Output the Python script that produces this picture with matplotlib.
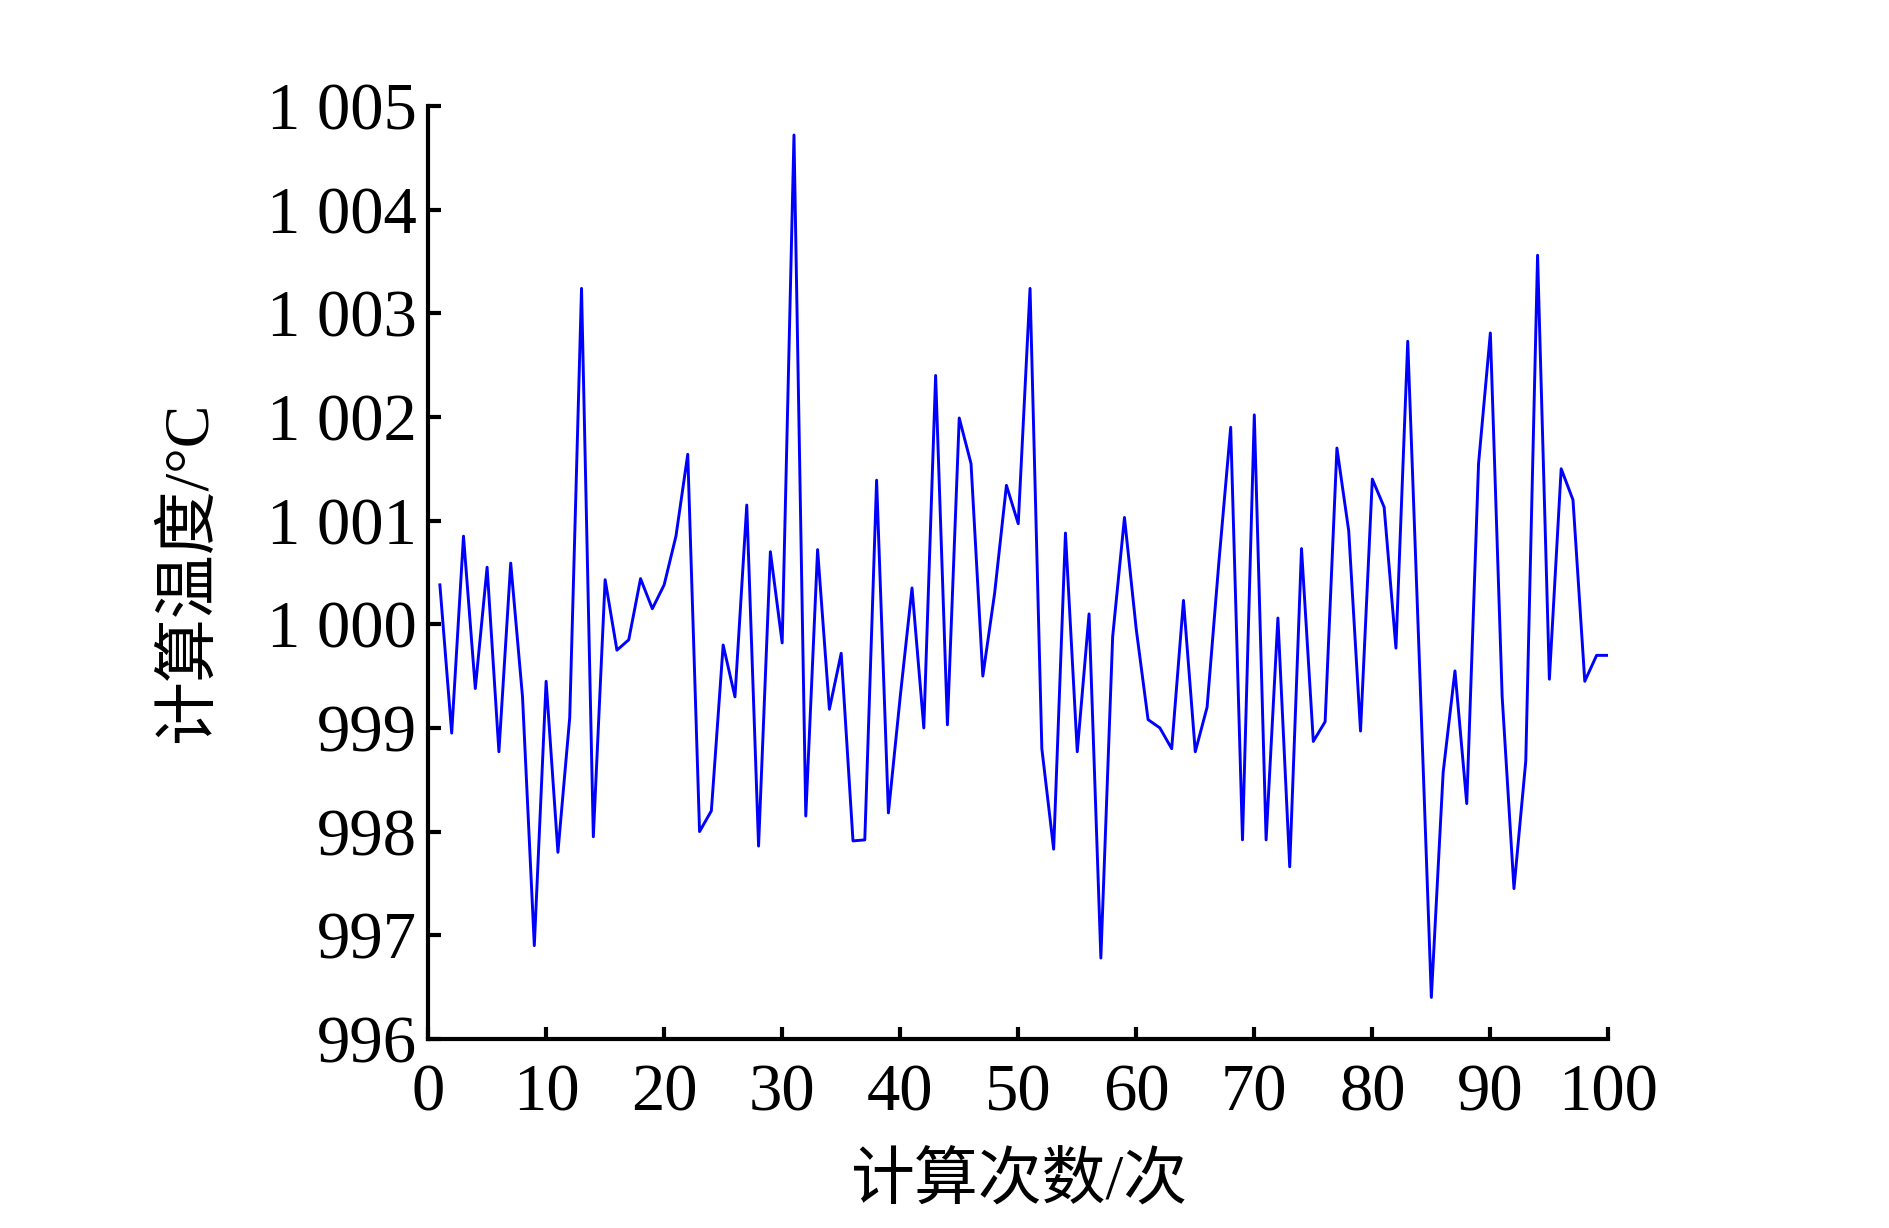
import matplotlib
matplotlib.use("Agg")
import matplotlib.pyplot as plt

# 计算次数 (1..100) et température calculée
runs = list(range(1, 101))
temps = [1000.38, 998.95, 1000.85, 999.38, 1000.55, 998.77, 1000.59, 999.3, 996.9, 999.45,
         997.8, 999.1, 1003.24, 997.95, 1000.43, 999.75, 999.85, 1000.44, 1000.15, 1000.38,
         1000.85, 1001.64, 998.0, 998.2, 999.8, 999.3, 1001.15, 997.86, 1000.7, 999.82,
         1004.72, 998.15, 1000.72, 999.18, 999.72, 997.91, 997.92, 1001.39, 998.18, 999.3,
         1000.35, 999.0, 1002.4, 999.03, 1001.99, 1001.55, 999.5, 1000.3, 1001.34, 1000.97,
         1003.24, 998.8, 997.83, 1000.88, 998.77, 1000.1, 996.78, 999.88, 1001.03, 999.95,
         999.08, 999.0, 998.8, 1000.23, 998.77, 999.2, 1000.6, 1001.9, 997.92, 1002.02,
         997.92, 1000.06, 997.66, 1000.73, 998.87, 999.06, 1001.7, 1000.9, 998.97, 1001.4,
         1001.13, 999.77, 1002.73, 999.6, 996.4, 998.57, 999.55, 998.27, 1001.55, 1002.81,
         999.3, 997.45, 998.68, 1003.56, 999.47, 1001.5, 1001.2, 999.45, 999.7, 999.7]

xticks = [0, 10, 20, 30, 40, 50, 60, 70, 80, 90, 100]
yticks = [996, 997, 998, 999, 1000, 1001, 1002, 1003, 1004, 1005]
ytick_labels = ["996", "997", "998", "999", "1 000", "1 001", "1 002", "1 003", "1 004", "1 005"]

fonts = ["Liberation Serif", "Noto Sans CJK SC"]
plt.rcParams["font.family"] = fonts

fig = plt.figure(figsize=(18.9, 12.28), dpi=100)
ax = fig.add_axes([0.2265, 0.154, 0.6245, 0.7597])

ax.plot(runs, temps, color="#0000ff", lw=2.1)

ax.set_xlim(0, 100)
ax.set_ylim(996, 1005)
ax.set_xticks(xticks)
ax.set_yticks(yticks)
ax.set_yticklabels(ytick_labels)
ax.tick_params(direction="in", length=9, width=3, labelsize=48, pad=8)
ax.tick_params(axis="x", pad=18)

for s in ["top", "right"]:
    ax.spines[s].set_visible(False)
for s in ["left", "bottom"]:
    ax.spines[s].set_linewidth(3)

ax.set_xlabel("计算次数/次", fontsize=46, labelpad=20)
ax.set_ylabel("计算温度/°C", fontsize=46, labelpad=34)

fig.savefig("out.png", dpi=100)
